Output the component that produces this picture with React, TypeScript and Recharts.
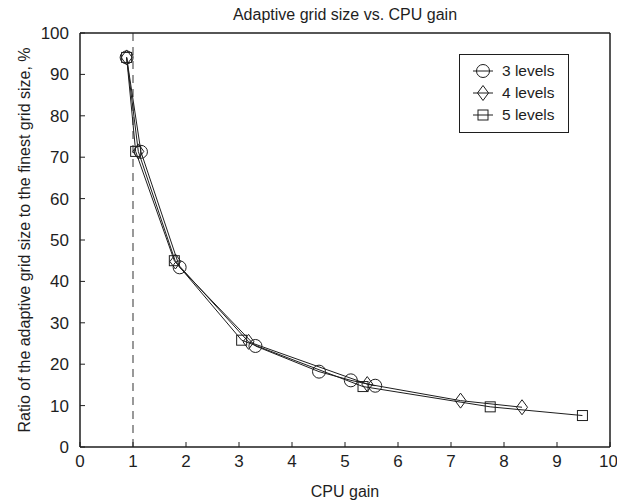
import React from 'react';
import { LineChart, Line, XAxis, YAxis, ReferenceLine, Legend } from 'recharts';

// values
const xTicks = [0, 1, 2, 3, 4, 5, 6, 7, 8, 9, 10];
const yTicks = [0, 10, 20, 30, 40, 50, 60, 70, 80, 90, 100];

const gain3 = [0.88, 1.15, 1.88, 3.31, 4.51, 5.11, 5.57];
const ratio3 = [94.1, 71.3, 43.4, 24.4, 18.2, 16.1, 14.8];

const gain4 = [0.88, 1.1, 1.8, 3.18, 5.42, 7.18, 8.34];
const ratio4 = [94.1, 71.4, 44.8, 25.4, 15.2, 11.2, 9.6];

const gain5 = [0.88, 1.05, 1.78, 3.05, 5.34, 7.74, 9.48];
const ratio5 = [94.1, 71.4, 45.0, 25.8, 14.6, 9.7, 7.6];

const INK = '#1e1e1e';
const FONT = '"Liberation Sans", Arial, Helvetica, sans-serif';

const toPoints = (xs: number[], ys: number[]) => xs.map((x, i) => ({ x, y: ys[i] }));

const series = [
  { name: '3 levels', shape: 'circle', data: toPoints(gain3, ratio3) },
  { name: '4 levels', shape: 'diamond', data: toPoints(gain4, ratio4) },
  { name: '5 levels', shape: 'square', data: toPoints(gain5, ratio5) },
];

function Marker({ shape, cx, cy }: { shape: string; cx: number; cy: number }) {
  const common = { fill: 'none', stroke: INK, strokeWidth: 1 };
  if (shape === 'circle') return <circle cx={cx} cy={cy} r={6.5} {...common} />;
  if (shape === 'diamond')
    return <path d={`M${cx},${cy - 7.5} L${cx + 5.5},${cy} L${cx},${cy + 7.5} L${cx - 5.5},${cy} Z`} {...common} />;
  return <rect x={cx - 5} y={cy - 5} width={10} height={10} {...common} />;
}

function LegendBox() {
  return (
    <div
      style={{
        border: `1px solid ${INK}`,
        background: '#fff',
        padding: '5px 0 6px 0',
        fontFamily: FONT,
        fontSize: 15.5,
        color: INK,
      }}
    >
      {series.map((s) => (
        <div key={s.name} style={{ display: 'flex', alignItems: 'center', height: 22 }}>
          <svg width={38} height={20} style={{ marginLeft: 3 }}>
            <line x1={10} y1={10} x2={30} y2={10} stroke={INK} strokeWidth={1} />
            <Marker shape={s.shape} cx={20} cy={10} />
          </svg>
          <span style={{ marginLeft: 1 }}>{s.name}</span>
        </div>
      ))}
    </div>
  );
}

const frame = { stroke: INK, strokeWidth: 1.5 };

export default function App() {
  return (
    <div style={{ position: 'absolute', left: 0, top: 0, background: '#fff' }}>
      <LineChart
        width={617}
        height={503}
        margin={{ top: 13, right: 2, bottom: 0, left: 0 }}
        style={{ fontFamily: FONT }}
      >
        <XAxis
          dataKey="x"
          type="number"
          domain={[0, 10]}
          ticks={xTicks}
          allowDataOverflow
          height={56}
          tickSize={-5}
          tickMargin={13}
          stroke={INK}
          axisLine={frame}
          tick={{ fill: INK, fontSize: 17 }}
          label={{ value: 'CPU gain', position: 'insideBottom', offset: 6, fill: INK, fontSize: 16 }}
        />
        <XAxis
          xAxisId="top"
          orientation="top"
          dataKey="x"
          type="number"
          domain={[0, 10]}
          ticks={xTicks}
          height={20}
          tickSize={-5}
          stroke={INK}
          axisLine={frame}
          tick={false}
          label={{ value: 'Adaptive grid size vs. CPU gain', position: 'insideTop', offset: -4, fill: INK, fontSize: 16 }}
        />
        <YAxis
          type="number"
          domain={[0, 100]}
          ticks={yTicks}
          width={80}
          tickSize={-5}
          tickMargin={16}
          stroke={INK}
          axisLine={frame}
          tick={{ fill: INK, fontSize: 17 }}
          label={{
            value: 'Ratio of the adaptive grid size to the finest grid size, %',
            angle: -90,
            position: 'insideLeft',
            offset: 24,
            fill: INK,
            fontSize: 16,
            style: { textAnchor: 'middle' },
          }}
        />
        <YAxis
          yAxisId="right"
          orientation="right"
          type="number"
          domain={[0, 100]}
          ticks={yTicks}
          width={5}
          tickSize={-5}
          stroke={INK}
          axisLine={frame}
          tick={false}
        />
        <ReferenceLine x={1} stroke="#555" strokeWidth={1.2} strokeDasharray="8 6" />
        <Legend
          layout="horizontal"
          verticalAlign="middle"
          align="center"
          wrapperStyle={{ left: 459, top: 54, width: 110 }}
          content={() => <LegendBox />}
        />
        {series.map((s) => (
          <Line
            key={s.name}
            name={s.name}
            data={s.data}
            dataKey="y"
            type="linear"
            stroke={INK}
            strokeWidth={1}
            isAnimationActive={false}
            dot={(p: any) => <Marker key={`${s.name}-${p.index}`} shape={s.shape} cx={p.cx} cy={p.cy} />}
            activeDot={false}
          />
        ))}
      </LineChart>
    </div>
  );
}
